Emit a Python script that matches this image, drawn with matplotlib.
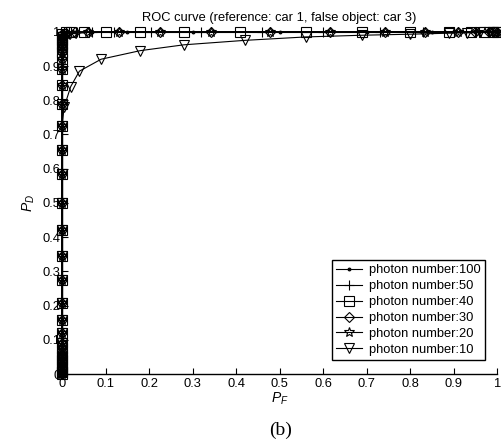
import numpy as np
import matplotlib
matplotlib.use('Agg')
import matplotlib.pyplot as plt

plt.rcParams['font.family'] = ['Liberation Sans', 'DejaVu Sans']
plt.rcParams['mathtext.fontset'] = 'custom'
plt.rcParams['mathtext.rm'] = 'Liberation Sans'
plt.rcParams['mathtext.it'] = 'Liberation Sans:italic'

# common detection probabilities along P_F = 0
pd_axis = [0.0, 0.005, 0.01, 0.02, 0.03, 0.04, 0.05, 0.06, 0.075, 0.09, 0.12,
           0.158, 0.208, 0.275, 0.345, 0.42, 0.5, 0.585, 0.655, 0.725, 0.79,
           0.845, 0.89, 0.92, 0.94, 0.955, 0.965, 0.975, 0.985, 0.993]

# photon number 100
pf_100 = [0.0] * 30 + [0.0, 0.01, 0.03, 0.07, 0.15, 0.3, 0.5, 0.7, 0.85, 0.95, 1.0]
pd_100 = pd_axis + [1.0] * 11
# photon number 50
pf_50 = [0.0] * 30 + [0.005, 0.015, 0.035, 0.07, 0.12, 0.205, 0.32, 0.46, 0.6, 0.73, 0.83, 0.9, 0.95, 0.98, 1.0]
pd_50 = pd_axis + [1.0] * 15
# photon number 40
pf_40 = [0.0] * 30 + [0.01, 0.02, 0.05, 0.1, 0.18, 0.28, 0.41, 0.56, 0.69, 0.8, 0.89, 0.94, 0.97, 0.99, 1.0]
pd_40 = pd_axis + [1.0] * 15
# photon number 30
pf_30 = [0.0] * 30 + [0.01, 0.03, 0.06, 0.13, 0.225, 0.342, 0.478, 0.616, 0.742, 0.835, 0.91, 0.95, 0.98, 0.995, 1.0]
pd_30 = pd_axis + [0.997, 0.998, 0.999, 1.0, 1.0, 1.0, 1.0, 1.0, 1.0, 1.0, 1.0, 1.0, 1.0, 1.0, 1.0]
# photon number 20
pf_20 = [0.0] * 30 + [0.005, 0.012, 0.025, 0.06, 0.13, 0.225, 0.342, 0.478, 0.616, 0.742, 0.835, 0.91, 0.955, 0.985, 1.0]
pd_20 = pd_axis + [0.985, 0.99, 0.995, 0.998, 1.0, 1.0, 1.0, 1.0, 1.0, 1.0, 1.0, 1.0, 1.0, 1.0, 1.0]
# photon number 10
pf_10 = [0.0] * 20 + [0.005, 0.02, 0.04, 0.09, 0.18, 0.28, 0.42, 0.56, 0.69, 0.8, 0.89, 0.93, 0.96, 0.98, 0.99, 1.0]
pd_10 = pd_axis[:20] + [0.78, 0.84, 0.885, 0.92, 0.945, 0.962, 0.975, 0.985, 0.99, 0.993, 0.996, 0.997, 0.998, 0.999, 1.0, 1.0]

fig = plt.figure(figsize=(5.02, 4.48), dpi=100)
ax = fig.add_axes([0.1235, 0.165, 0.867, 0.764])

kw = dict(color='k', lw=0.8, mec='k', mew=0.8, clip_on=False, zorder=3)
ax.plot(pf_100, pd_100, marker='.', ms=4, mfc='k', label='photon number:100', **kw)
ax.plot(pf_50, pd_50, marker='+', ms=7, mfc='none', label='photon number:50', **kw)
ax.plot(pf_40, pd_40, marker='s', ms=6.5, mfc='none', label='photon number:40', **kw)
ax.plot(pf_30, pd_30, marker='D', ms=5.5, mfc='none', label='photon number:30', **kw)
ax.plot(pf_20, pd_20, marker='*', ms=7, mfc='none', label='photon number:20', **kw)
ax.plot(pf_10, pd_10, marker='v', ms=7, mfc='none', label='photon number:10', **kw)

ax.set_xlim(0, 1)
ax.set_ylim(0, 1)
ticks = [0, 0.1, 0.2, 0.3, 0.4, 0.5, 0.6, 0.7, 0.8, 0.9, 1]
labels = ['0', '0.1', '0.2', '0.3', '0.4', '0.5', '0.6', '0.7', '0.8', '0.9', '1']
ax.set_xticks(ticks)
ax.set_xticklabels(labels)
ax.set_yticks(ticks)
ax.set_yticklabels(labels)
ax.tick_params(direction='in', length=4, width=0.8, labelsize=9.3, pad=3)
ax.tick_params(axis='y', pad=1)
for s in ['top', 'right']:
    ax.spines[s].set_visible(False)
for s in ['left', 'bottom']:
    ax.spines[s].set_linewidth(1.0)

ax.set_title('ROC curve (reference: car 1, false object: car 3)', fontsize=9.3, pad=8)
ax.set_xlabel('$P_F$', fontsize=10, labelpad=0)
ax.set_ylabel('$P_D$', fontsize=10, labelpad=4)

leg = ax.legend(loc='lower right', bbox_to_anchor=(0.972, 0.04), fontsize=9.3,
                frameon=True, fancybox=False, edgecolor='k', framealpha=1,
                borderpad=0.35, labelspacing=0.3, handlelength=2.0, handletextpad=0.5,
                borderaxespad=0)
leg.get_frame().set_linewidth(1.0)

fig.text(0.558, 0.03, '(b)', family='Liberation Serif', fontsize=14, ha='center')

fig.savefig('out.png', dpi=100)
